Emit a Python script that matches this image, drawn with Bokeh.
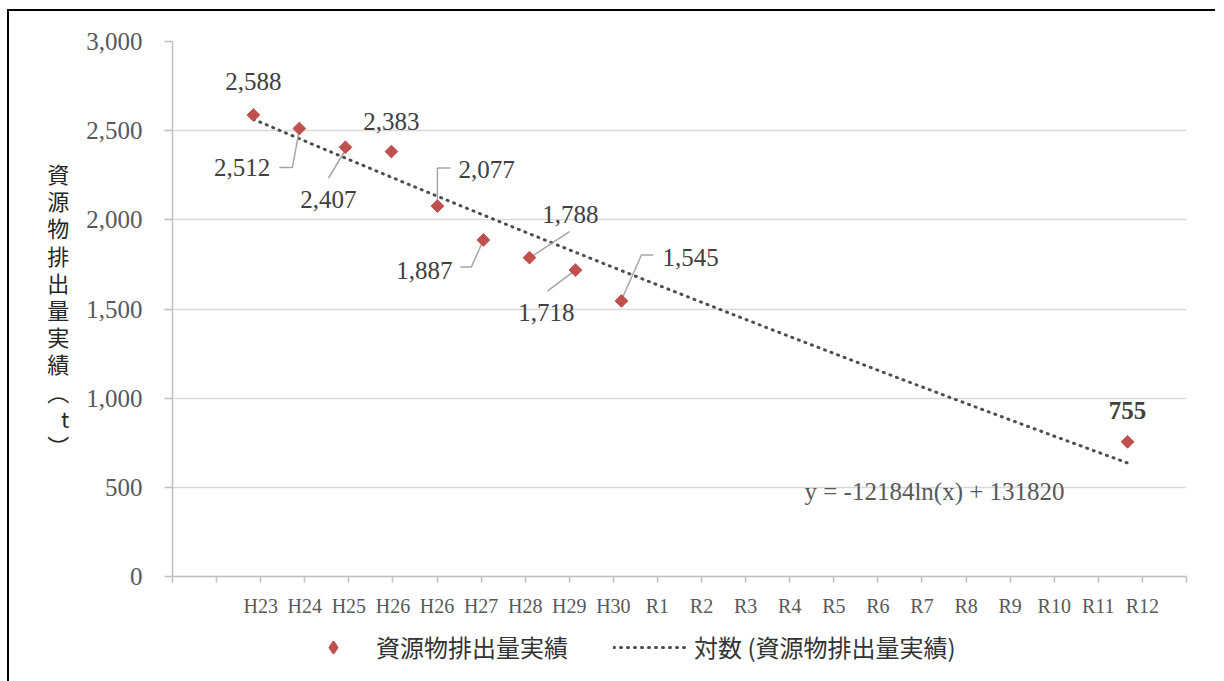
import numpy as np
import pandas as pd
from bokeh.plotting import figure
from bokeh.layouts import column
from bokeh.models import (Range1d, FixedTicker, Legend, LegendItem, Label,
                          ColumnDataSource, NumeralTickFormatter)
from bokeh.embed import file_html
from bokeh.resources import INLINE
from bokeh.core.properties import value

# ---------------- data ----------------
FY_LABELS = ["H23", "H24", "H25", "H26", "H26", "H27", "H28", "H29", "H30",
             "R1", "R2", "R3", "R4", "R5", "R6", "R7", "R8", "R9", "R10", "R11", "R12"]
POINT_DATES = ["2010-11-01", "2011-11-01", "2012-11-01", "2013-11-01", "2014-11-01",
               "2015-11-01", "2016-11-01", "2017-11-01", "2018-11-01", "2029-11-01"]
POINT_VALUES = [2588, 2512, 2407, 2383, 2077, 1887, 1788, 1718, 1545, 755]
POINT_LABELS = ["2,588", "2,512", "2,407", "2,383", "2,077", "1,887", "1,788", "1,718", "1,545", "755"]
Y_TICKS = [0, 500, 1000, 1500, 2000, 2500, 3000]
TREND_SLOPE = -12184
TREND_INTERCEPT = 131820
SERIES_NAME = "資源物排出量実績"
TREND_NAME = "対数 (資源物排出量実績)"
EQUATION = "y = -12184ln(x) + 131820"
Y_LABEL = "資源物排出量実績︵t︶"

# ---------------- styles / layout ----------------
FRAME_W, FRAME_H = 1014, 535
X_START, X_STEP, N_STEPS = 39841, 350, 23
X_END = X_START + X_STEP * N_STEPS
Y_MAX = 3000
PX_X = FRAME_W / (X_END - X_START)
PX_Y = FRAME_H / Y_MAX
SERIF = "Liberation Serif"
CJK = "Noto Sans CJK JP"
RED = "#c0504d"
TREND_COLOR = "#4d4d4d"

# label placement (screen px, relative to the point; dy up)
LBL_OFF = [(0, 33, "center"), (-29, -39, "right"), (-17, -52, "center"), (0, 30, "center"),
           (21, 37, "left"), (-31, -31, "right"), (41, 43, "center"), (-29, -42, "center"),
           (41, 43, "left"), (0, 31, "center")]
LBL_STYLE = ["normal"] * 9 + ["bold"]
LEADERS = {1: [(-20, -39), (-7, -39), (0, -1)],
           2: [(-17, -31), (1, -1)],
           4: [(13, 38), (0, 38), (0, 1)],
           5: [(-23, -27), (-12, -27), (0, 0)],
           6: [(40, 26), (2, 1)],
           7: [(-28, -21), (0, 0)],
           8: [(32, 46), (20, 46), (0, 1)]}

epoch = pd.Timestamp("1899-12-30")
xs = np.array([(pd.Timestamp(d) - epoch).days for d in POINT_DATES], dtype=float)
ys = np.array(POINT_VALUES, dtype=float)

p = figure(width=1206, output_backend="svg", toolbar_location=None,
           x_range=Range1d(X_START, X_END), y_range=Range1d(0, Y_MAX),
           frame_width=FRAME_W, frame_height=FRAME_H,
           min_border_left=163, min_border_top=30, min_border_right=29, min_border_bottom=46)
p.outline_line_color = None
p.background_fill_color = "white"
p.border_fill_color = "white"

# axes
x_ticks = [X_START + X_STEP * k for k in range(N_STEPS + 1)]
overrides = {t: "" for t in x_ticks}
for i, lab in enumerate(FY_LABELS):
    overrides[x_ticks[i + 2]] = lab
p.xaxis.ticker = FixedTicker(ticks=x_ticks)
p.xaxis.major_label_overrides = overrides
p.xaxis.major_tick_out = 6
p.xaxis.major_tick_in = 0
p.xaxis.minor_tick_line_color = None
p.xaxis.axis_line_color = "#bfbfbf"
p.xaxis.axis_line_width = 1.5
p.xaxis.major_tick_line_color = "#bfbfbf"
p.xaxis.major_tick_line_width = 1.5
p.xaxis.major_label_text_font = SERIF
p.xaxis.major_label_text_font_size = "20px"
p.xaxis.major_label_text_color = "#595959"
p.xaxis.major_label_standoff = 12
p.xgrid.grid_line_color = None

p.yaxis.ticker = FixedTicker(ticks=Y_TICKS)
p.yaxis.formatter = NumeralTickFormatter(format="0,0")
p.yaxis.major_tick_out = 8
p.yaxis.major_tick_in = 0
p.yaxis.minor_tick_line_color = None
p.yaxis.axis_line_color = "#bfbfbf"
p.yaxis.axis_line_width = 1.5
p.yaxis.major_tick_line_color = "#bfbfbf"
p.yaxis.major_tick_line_width = 1.5
p.yaxis.major_label_text_font = SERIF
p.yaxis.major_label_text_font_size = "25px"
p.yaxis.major_label_text_color = "#595959"
p.yaxis.major_label_standoff = 22
p.yaxis.axis_label = "\n".join(Y_LABEL)
p.yaxis.axis_label_orientation = "horizontal"
p.yaxis.axis_label_text_font = CJK
p.yaxis.axis_label_text_font_size = "22px"
p.yaxis.axis_label_text_font_style = "normal"
p.yaxis.axis_label_text_color = "#262626"
p.yaxis.axis_label_text_line_height = 0.85
p.yaxis.axis_label_standoff = 14
p.ygrid.grid_line_color = "#d9d9d9"
p.ygrid.grid_line_width = 1.5

# trendline (chart's own logarithmic trend equation)
tx = np.linspace(xs[0], xs[-1], 300)
ty = TREND_SLOPE * np.log(tx) + TREND_INTERCEPT
p.line(tx, ty, line_color=TREND_COLOR, line_width=3, line_dash="1 6", line_cap="round")

# leader lines
lx, ly = [], []
for i, pts in LEADERS.items():
    lx.append([xs[i] + dx / PX_X for dx, dy in pts])
    ly.append([ys[i] + dy / PX_Y for dx, dy in pts])
p.multi_line(lx, ly, line_color="#a6a6a6", line_width=1.5)

# points
src = ColumnDataSource(dict(x=xs, y=ys))
p.scatter("x", "y", source=src, marker="square", size=9, angle=np.pi / 4,
          fill_color=RED, line_color=RED)

# data labels
lsrc = ColumnDataSource(dict(
    x=xs, y=ys, t=POINT_LABELS,
    xo=[o[0] for o in LBL_OFF], yo=[-o[1] for o in LBL_OFF],
    al=[o[2] for o in LBL_OFF], st=LBL_STYLE))
p.text(x="x", y="y", text="t", x_offset="xo", y_offset="yo", text_align="al",
       text_baseline="middle", text_font=value(SERIF), text_font_size="25px",
       text_font_style="st", text_color="#404040", source=lsrc)

# equation
p.add_layout(Label(x=44858, y=477, text=EQUATION, text_align="left", text_baseline="middle",
                   text_font=SERIF, text_font_size="25px", text_color="#595959"))

# ---- legend strip (same glyph styles, samples kept outside the visible range) ----
q = figure(width=1206, height=80, output_backend="svg", toolbar_location=None,
           x_range=Range1d(0, 1), y_range=Range1d(0, 1),
           min_border_left=0, min_border_right=0, min_border_top=0, min_border_bottom=0)
q.axis.visible = False
q.grid.visible = False
q.outline_line_color = None
q.border_fill_color = "white"
leg_pts = q.scatter([-5], [-5], marker="diamond", size=9,
                    fill_color=RED, line_color=RED, line_width=2)
leg_trend = q.line([-5, -4], [-5, -4], line_color=TREND_COLOR, line_width=3,
                   line_dash="1 6", line_cap="round")
legend = Legend(items=[LegendItem(label=SERIES_NAME, renderers=[leg_pts]),
                       LegendItem(label=TREND_NAME, renderers=[leg_trend])],
                orientation="horizontal", location=(123, 38),
                glyph_width=76, glyph_height=30, label_standoff=5, spacing=45,
                padding=0, margin=0, border_line_alpha=0, background_fill_alpha=0,
                label_text_font=CJK, label_text_font_size="24px", label_text_color="#333333")
q.add_layout(legend, "center")

layout = column(p, q, spacing=0)
layout.styles = {"border-left": "2px solid black", "border-top": "2px solid black",
                 "margin-left": "7px", "margin-top": "9px"}

open("out.html", "w").write(file_html(layout, INLINE))
